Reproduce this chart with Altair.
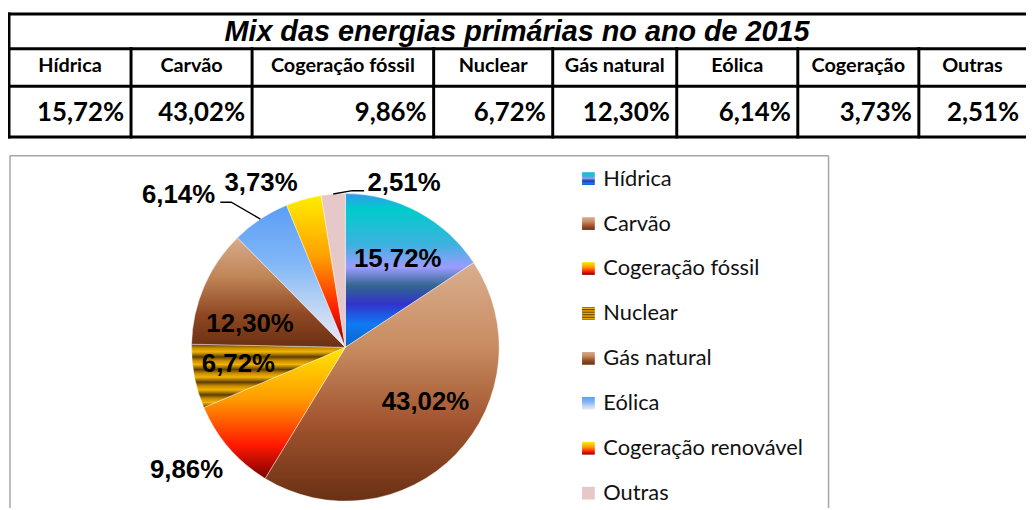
import altair as alt
import pandas as pd
import numpy as np

# ---------------- data ----------------
title_text = "Mix das energias primárias no ano de 2015"
table_headers = ["Hídrica", "Carvão", "Cogeração fóssil", "Nuclear",
                 "Gás natural", "Eólica", "Cogeração", "Outras"]
table_values = ["15,72%", "43,02%", "9,86%", "6,72%",
                "12,30%", "6,14%", "3,73%", "2,51%"]
pie_categories = ["Hídrica", "Carvão", "Cogeração fóssil", "Nuclear",
                  "Gás natural", "Eólica", "Cogeração renovável", "Outras"]
pie_shares = [15.72, 43.02, 9.86, 6.72, 12.30, 6.14, 3.73, 2.51]
pie_labels = ["15,72%", "43,02%", "9,86%", "6,72%",
              "12,30%", "6,14%", "3,73%", "2,51%"]

# ---------------- layout ----------------
W, H = 1026, 502
col_widths = [123, 122, 183, 120, 125, 122, 122, 108]
table_x0 = 1
row_edges = [4, 39, 77, 128]
title_x, title_baseline = 513, 31.5
header_baseline, value_baseline = 63, 112
value_pad = 7

cx, cy, R = 340, 340, 155
label_angle_shift = [0.61, -2.87, 0.89, 0.71, -2.58, -3.89, -3.13, 6.68]   # in % of circle
label_radius = [104, 97, 202, 109, 99, 228, 187, 177]
# leader lines: (category index, elbow angle %, elbow radius, horizontal run)
leaders = [(5, 89.39, 186, -11), (7, 100.70, 158, 12)]

box_left, box_top, box_right = 2, 147, 827
legend_sym_x, legend_text_x = 585, 600
legend_range = [170, 487]

# ---------------- styles ----------------
def grad(stops):
    return alt.LinearGradient(
        gradient="linear", x1=0, y1=0, x2=0, y2=1,
        stops=[alt.GradientStop(offset=o, color=c) for o, c in stops])

nuclear_stops = []
for k in range(5):
    nuclear_stops += [(k / 5, "#5E3D00"), (k / 5 + 0.06, "#C98C00"), (k / 5 + 0.12, "#F2B400")]
nuclear_stops.append((1.0, "#5E3D00"))

fills = [
    grad([(0, "#3399EE"), (0.1, "#00CCCC"), (0.33, "#3CB2DE"), (0.48, "#9C9CFF"),
          (0.6, "#33668F"), (0.72, "#3333CC"), (0.85, "#0F7AF5"), (1, "#0A66C2")]),
    grad([(0, "#D9AE90"), (0.35, "#C88C60"), (0.68, "#A0532E"), (1, "#6A3014")]),
    grad([(0, "#FFE800"), (0.4, "#FF9A00"), (0.75, "#FF1800"), (1, "#7A0000")]),
    grad(nuclear_stops),
    grad([(0, "#D7AB8B"), (0.35, "#C08658"), (0.7, "#8F4822"), (1, "#6A3014")]),
    grad([(0, "#5B9DF5"), (0.4, "#80B6F7"), (0.75, "#C4D8F3"), (1, "#EEEAF8")]),
    grad([(0, "#FFEE00"), (0.4, "#FFA000"), (0.75, "#FF1E00"), (1, "#850000")]),
    "#E6C8C8",
]

# ---------------- derived tables ----------------
edges = np.concatenate([[table_x0], table_x0 + np.cumsum(col_widths)])
segs = []
for y in row_edges:
    segs.append(dict(x=0, x2=W, y=y, y2=y))
segs.append(dict(x=table_x0, x2=table_x0, y=row_edges[0], y2=row_edges[-1]))
for e in edges[1:-1]:
    segs.append(dict(x=float(e), x2=float(e), y=row_edges[1], y2=row_edges[-1]))
seg_df = pd.DataFrame(segs)

tab_df = pd.DataFrame({
    "header": table_headers,
    "value": table_values,
    "xc": (edges[:-1] + edges[1:]) / 2,
    "xr": edges[1:] - value_pad,
    "yh": header_baseline,
    "yv": value_baseline,
})
title_df = pd.DataFrame({"t": [title_text], "x": [title_x], "y": [title_baseline]})

shares = np.array(pie_shares)
ends = np.cumsum(shares)
starts = ends - shares
mids = (starts + ends) / 2
pie_df = pd.DataFrame({
    "idx": range(len(pie_categories)),
    "cat": pie_categories,
    "share": shares,
    "start": starts,
    "end": ends,
    "label": pie_labels,
    "lab_angle": (mids + np.array(label_angle_shift)) % 100,
    "lab_r": label_radius,
})

lead_pts = []
for i, a, r, run in leaders:
    m = np.deg2rad(mids[i] * 3.6)
    e = np.deg2rad(a * 3.6)
    p0 = (cx + R * np.sin(m), cy - R * np.cos(m))
    p1 = (cx + r * np.sin(e), cy - r * np.cos(e))
    p2 = (p1[0] + run, p1[1])
    for k, p in enumerate([p0, p1, p2]):
        lead_pts.append(dict(cat=pie_categories[i], k=k, x=p[0], y=p[1]))
lead_df = pd.DataFrame(lead_pts)

box_df = pd.DataFrame([
    dict(x=box_left, x2=box_left, y=box_top, y2=H),
    dict(x=box_left, x2=box_right, y=box_top, y2=box_top),
    dict(x=box_right, x2=box_right, y=box_top, y2=H),
])

# ---------------- chart ----------------
sx = alt.Scale(domain=[0, W], range=[0, W])
sy = alt.Scale(domain=[0, H], range=[0, H])
theta_scale = alt.Scale(domain=[0, 100], range=[0, 2 * np.pi])
legend_y = alt.Scale(type="point", domain=pie_categories, range=legend_range, padding=0)

table_lines = alt.Chart(seg_df).mark_rule(color="black", strokeWidth=3, strokeCap="square").encode(
    x=alt.X("x:Q", scale=sx, axis=None), x2="x2:Q",
    y=alt.Y("y:Q", scale=sy, axis=None), y2="y2:Q")

title = alt.Chart(title_df).mark_text(
    font="Liberation Sans", fontSize=29, fontWeight="bold", fontStyle="italic",
    align="center", baseline="alphabetic", color="black").encode(
    x=alt.X("x:Q", scale=sx, axis=None), y=alt.Y("y:Q", scale=sy, axis=None), text="t:N")

headers = alt.Chart(tab_df).mark_text(
    font="Lato", fontSize=20, fontWeight="bold", align="center",
    baseline="alphabetic", color="black").encode(
    x=alt.X("xc:Q", scale=sx, axis=None), y=alt.Y("yh:Q", scale=sy, axis=None), text="header:N")

values = alt.Chart(tab_df).mark_text(
    font="Lato", fontSize=26, fontWeight="bold", align="right",
    baseline="alphabetic", color="black").encode(
    x=alt.X("xr:Q", scale=sx, axis=None), y=alt.Y("yv:Q", scale=sy, axis=None), text="value:N")

box = alt.Chart(box_df).mark_rule(color="#A6A6A6", strokeWidth=1.5).encode(
    x=alt.X("x:Q", scale=sx, axis=None), x2="x2:Q",
    y=alt.Y("y:Q", scale=sy, axis=None), y2="y2:Q")

arcs = []
for i in range(len(pie_categories)):
    arcs.append(
        alt.Chart(pie_df).transform_filter(alt.datum.idx == i)
        .mark_arc(x=cx, y=cy, outerRadius=R, fill=fills[i], stroke="white", strokeWidth=0.4)
        .encode(theta=alt.Theta("start:Q", scale=theta_scale, stack=False), theta2="end:Q")
    )

leader_lines = alt.Chart(lead_df).mark_line(color="black", strokeWidth=1.4).encode(
    x=alt.X("x:Q", scale=sx, axis=None), y=alt.Y("y:Q", scale=sy, axis=None),
    detail="cat:N", order="k:Q")

pie_text = alt.Chart(pie_df).mark_text(
    x=cx, y=cy, font="Liberation Sans", fontSize=26, fontWeight="bold",
    align="center", baseline="middle", dy=1, color="black").encode(
    theta=alt.Theta("lab_angle:Q", scale=theta_scale, stack=False),
    radius=alt.Radius("lab_r:Q", scale=None),
    text="label:N")

legend_syms = []
for i in range(len(pie_categories)):
    legend_syms.append(
        alt.Chart(pie_df).transform_filter(alt.datum.idx == i)
        .mark_square(x=legend_sym_x, size=165, fill=fills[i], opacity=1, strokeWidth=0)
        .encode(y=alt.Y("cat:N", scale=legend_y, axis=None))
    )
legend_text = alt.Chart(pie_df).mark_text(
    x=legend_text_x, font="Lato", fontSize=22, align="left", baseline="middle",
    color="#111111").encode(
    y=alt.Y("cat:N", scale=legend_y, axis=None), text="cat:N")

legend = alt.layer(*legend_syms, legend_text)

chart = alt.layer(
    table_lines, title, headers, values, box, *arcs, leader_lines, pie_text, legend
).resolve_scale(y="independent").properties(
    width=W, height=H, padding=0,
    autosize=alt.AutoSizeParams(type="none"),
).configure_view(stroke=None)

chart.save("out.html", embed_options={"renderer": "svg", "actions": False})
